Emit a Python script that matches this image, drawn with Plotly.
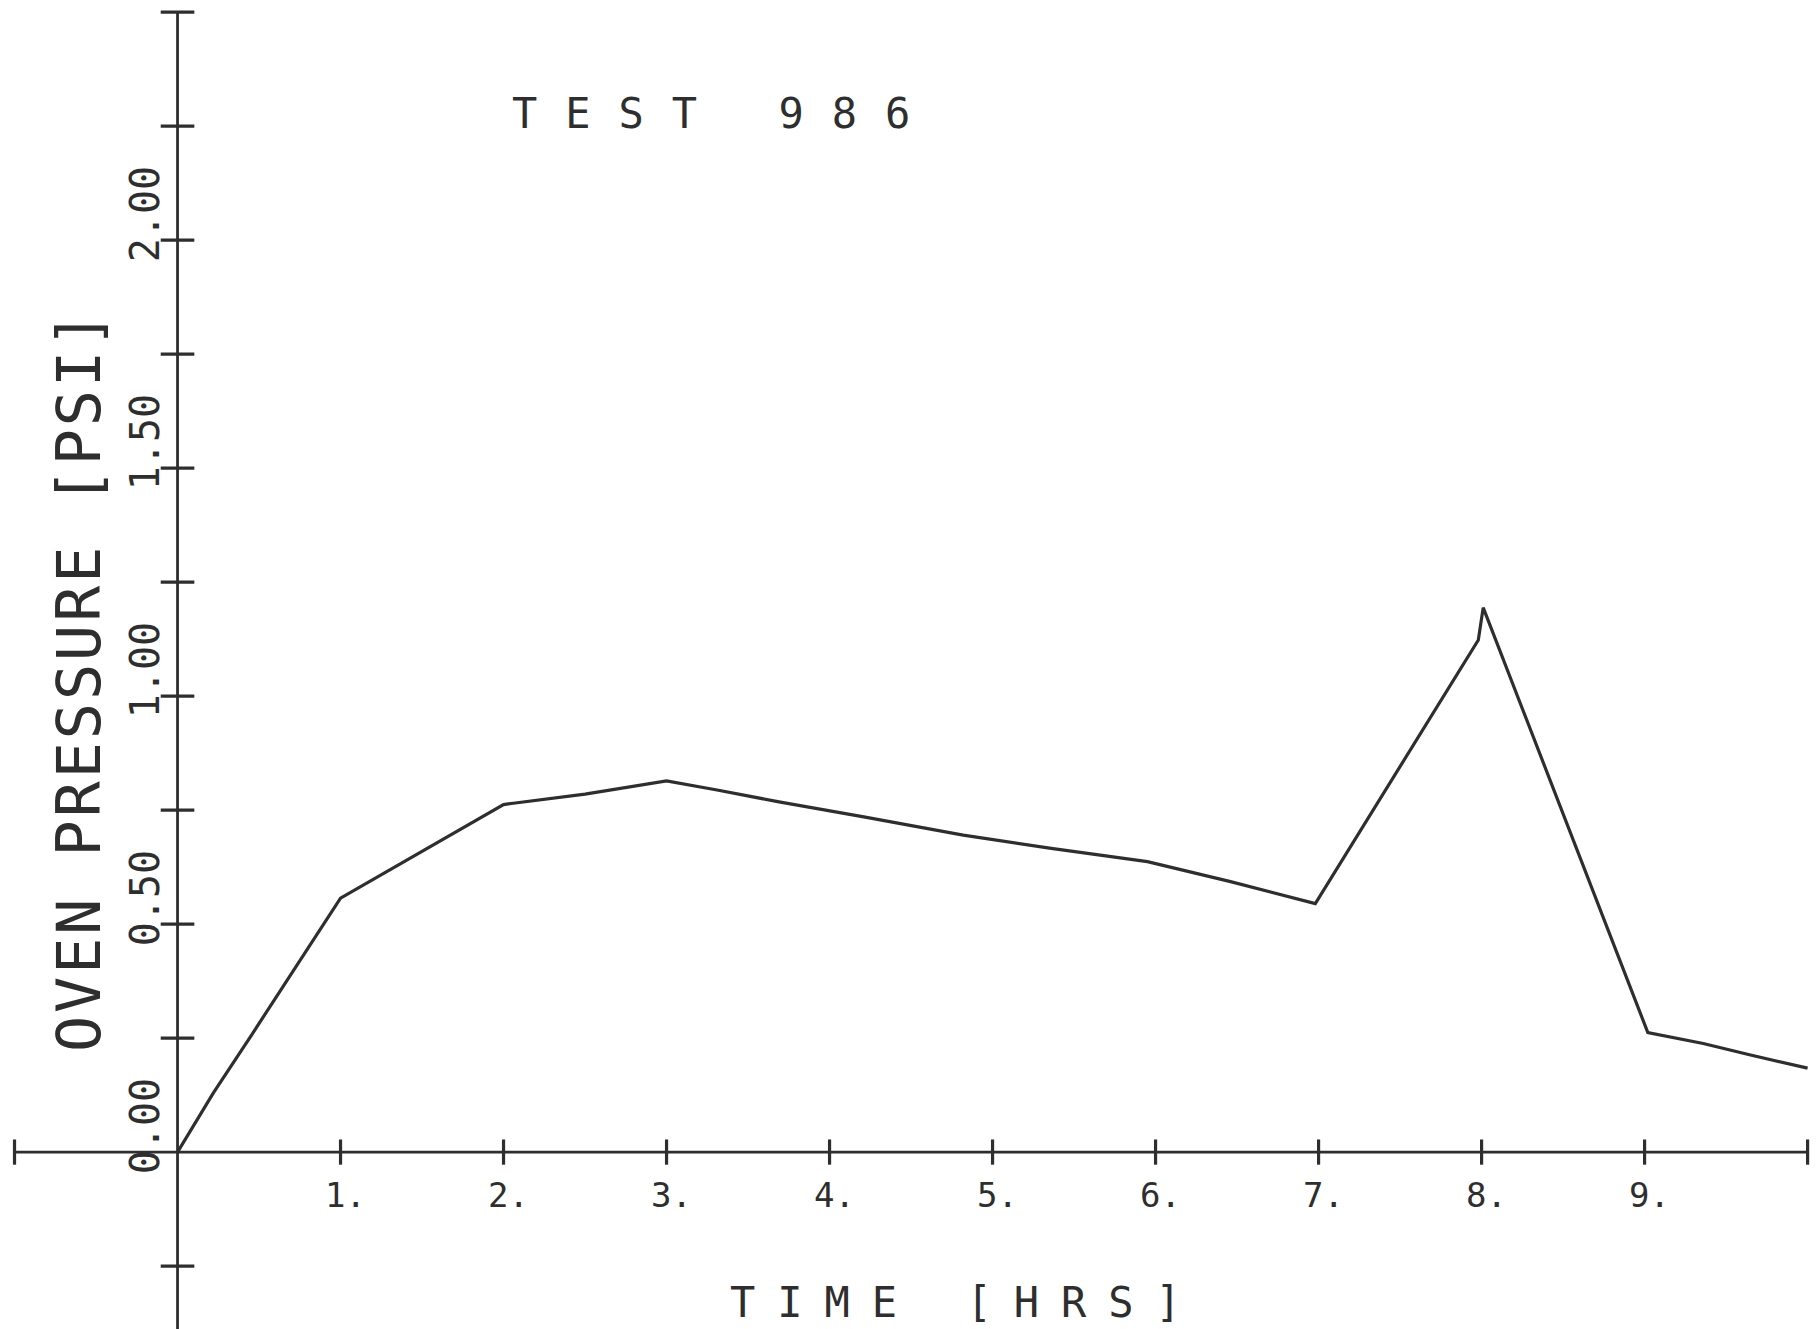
import plotly.graph_objects as go

# ---- data ----
time_hrs = [0.0, 0.22, 0.46, 1.0, 2.0, 2.06, 2.5, 2.7, 3.0, 3.31, 3.69, 4.21, 4.82,
            5.36, 5.95, 6.46, 6.98, 7.98, 8.01, 9.02, 9.36, 9.65, 10.0]
pressure_psi = [0.0, 0.13, 0.26, 0.557, 0.762, 0.765, 0.785, 0.796, 0.814, 0.794, 0.768,
                0.735, 0.695, 0.666, 0.637, 0.593, 0.545, 1.123, 1.194, 0.262, 0.238,
                0.213, 0.184]

x_tick_vals = [-1, 1, 2, 3, 4, 5, 6, 7, 8, 9, 10]
x_label_vals = [1, 2, 3, 4, 5, 6, 7, 8, 9]
x_label_texts = ["1.", "2.", "3.", "4.", "5.", "6.", "7.", "8.", "9."]
y_tick_vals = [-0.25, 0.25, 0.5, 0.75, 1.0, 1.25, 1.5, 1.75, 2.0, 2.25, 2.5]
y_label_vals = [0.0, 0.5, 1.0, 1.5, 2.0]
y_label_texts = ["0.00", "0.50", "1.00", "1.50", "2.00"]

title_text = "TEST 986"
x_title = "TIME [HRS]"
y_title = "OVEN PRESSURE [PSI]"

INK = "#2e2e2e"
FONT = "DejaVu Sans Mono"

fig = go.Figure()

# axes drawn as plotter lines
fig.add_trace(go.Scatter(x=[-1, 10], y=[0, 0], mode="lines",
                         line=dict(color=INK, width=2.8), hoverinfo="skip"))
fig.add_trace(go.Scatter(x=[0, 0], y=[-0.6, 2.5], mode="lines",
                         line=dict(color=INK, width=2.8), hoverinfo="skip"))
# tick marks
fig.add_trace(go.Scatter(x=x_tick_vals, y=[0] * len(x_tick_vals), mode="markers",
                         marker=dict(symbol="line-ns", size=18,
                                     line=dict(color=INK, width=3.2)), hoverinfo="skip"))
fig.add_trace(go.Scatter(x=[0] * len(y_tick_vals), y=y_tick_vals, mode="markers",
                         marker=dict(symbol="line-ew", size=24,
                                     line=dict(color=INK, width=3.2)), hoverinfo="skip"))
# data curve
fig.add_trace(go.Scatter(x=time_hrs, y=pressure_psi, mode="lines",
                         line=dict(color=INK, width=3.2), name="Oven pressure"))

ann = []
for v, t in zip(x_label_vals, x_label_texts):
    ann.append(dict(x=v + 0.03, y=-0.094, xref="x", yref="y", text=t, showarrow=False,
                    xanchor="center", yanchor="middle",
                    font=dict(family=FONT, size=34, color=INK)))
for v, t in zip(y_label_vals, y_label_texts):
    ann.append(dict(x=-0.199, y=v + 0.057, xref="x", yref="y", text=t, showarrow=False,
                    textangle=-90, xanchor="center", yanchor="middle",
                    font=dict(family=FONT, size=40, color=INK)))
ann.append(dict(x=3.359, y=2.277, xref="x", yref="y",
                text='<span style="letter-spacing:28px">' + title_text + '</span>',
                showarrow=False, xanchor="center", yanchor="middle",
                font=dict(family=FONT, size=42, color=INK)))
ann.append(dict(x=4.843, y=-0.329, xref="x", yref="y",
                text='<span style="letter-spacing:22px">' + x_title + '</span>',
                showarrow=False, xanchor="center", yanchor="middle",
                font=dict(family=FONT, size=42, color=INK)))
ann.append(dict(x=-0.604, y=1.033, xref="x", yref="y",
                text='<span style="letter-spacing:3px">' + y_title + '</span>',
                showarrow=False, textangle=-90, xanchor="center", yanchor="middle",
                font=dict(family=FONT, size=60, color=INK)))

fig.update_layout(
    width=1811, height=1321,
    margin=dict(l=0, r=0, t=0, b=0),
    paper_bgcolor="white", plot_bgcolor="white",
    showlegend=False,
    xaxis=dict(range=[-1.040, 10.070], visible=False, fixedrange=True),
    yaxis=dict(range=[-0.388, 2.509], visible=False, fixedrange=True),
    annotations=ann,
)

fig.write_html("out.html")
